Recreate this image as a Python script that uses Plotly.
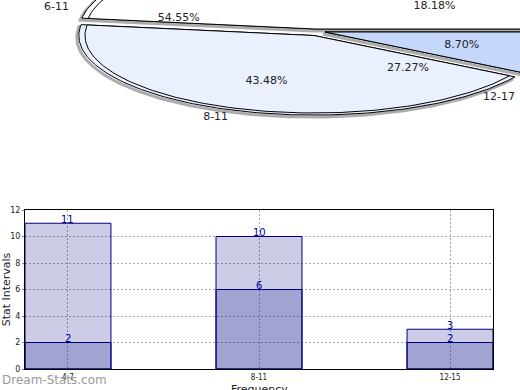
import math
import plotly.graph_objects as go

# ---------------- data ----------------
categories = ["4-7", "8-11", "12-15"]
total_counts = [11, 10, 3]
sub_counts = [2, 6, 2]

pie1_labels = ["4-7", "8-11", "12-15"]
pie1_values = [11, 10, 2]
pie2_labels = ["0-5", "6-11", "12-17"]
pie2_values = [2, 6, 3]

# ---------------- pie geometry (pixel-like units of the pie subplot) ----------------
CX, CY = 315.0, 32.0
A, B = 229.0, 77.5
OUTER = 1.027
LABEL_R = 0.62
OUT_R = 1.12
pie1_colors = ["#FFFFFF", "#EAF0FD", "#C5D8FC"]
pie1_pull = [(0.0, -3.0), (-1.0, 3.5), (10.0, 0.0)]


def ell(t, scale=1.0, dx=0.0, dy=0.0):
    return CX + dx + A * scale * math.cos(t), CY + dy - B * scale * math.sin(t)


def slice_poly(t0, t1, scale, dx, dy):
    xs, ys = [CX + dx], [CY + dy]
    n = max(8, int(abs(t1 - t0) / 0.02))
    for i in range(n + 1):
        t = t0 + (t1 - t0) * i / n
        x, y = ell(t, scale, dx, dy)
        xs.append(x)
        ys.append(y)
    xs.append(CX + dx)
    ys.append(CY + dy)
    return xs, ys


def angles(values):
    tot = float(sum(values))
    out, start = [], 0.0
    for v in values:
        span = 2 * math.pi * v / tot
        out.append((start, start + span))
        start += span
    return out


fig = go.Figure()

# --- pie 1 slices ---
p1 = angles(pie1_values)
# shadows
for (t0, t1), (dx, dy) in zip(p1, pie1_pull):
    xs, ys = slice_poly(t0, t1, OUTER, dx - 2, dy + 2)
    fig.add_trace(go.Scatter(x=xs, y=ys, mode="lines", xaxis="x2", yaxis="y2",
                             line=dict(color="rgba(90,90,90,0.5)", width=3),
                             hoverinfo="skip", showlegend=False))
for (t0, t1), (dx, dy), col in zip(p1, pie1_pull, pie1_colors):
    for sc in (OUTER, 1.0):
        xs, ys = slice_poly(t0, t1, sc, dx, dy)
        fig.add_trace(go.Scatter(x=xs, y=ys, mode="lines", fill="toself", fillcolor=col,
                                 xaxis="x2", yaxis="y2",
                                 line=dict(color="#000000", width=1),
                                 hoverinfo="skip", showlegend=False))

# --- pie labels ---
tot1 = float(sum(pie1_values))
tot2 = float(sum(pie2_values))
tx, ty, tt, tp = [], [], [], []


def add_labels(slices, pulls, values, labels, tot):
    for (t0, t1), (dx, dy), v, lab in zip(slices, pulls, values, labels):
        m = (t0 + t1) / 2
        x, y = ell(m, LABEL_R, dx, dy)
        tx.append(x); ty.append(y); tt.append("%.2f%%" % (100 * v / tot)); tp.append("middle center")
        x, y = ell(m, OUT_R, dx, dy)
        tx.append(x); ty.append(y); tt.append(lab)
        tp.append("middle right" if math.cos(m) > 0 else "middle left")


add_labels(p1, pie1_pull, pie1_values, pie1_labels, tot1)
add_labels(angles(pie2_values), [(0.0, 0.0)] * 3, pie2_values, pie2_labels, tot2)
fig.add_trace(go.Scatter(x=tx, y=ty, text=tt, mode="text", textposition=tp,
                         xaxis="x2", yaxis="y2",
                         textfont=dict(family="DejaVu Sans", size=11, color="#222222"),
                         hoverinfo="skip", showlegend=False))

# --- bars ---
bar_fill = "rgba(0,0,128,0.2)"
for vals in (total_counts, sub_counts):
    fig.add_trace(go.Bar(x=categories, y=vals, width=0.45,
                         marker=dict(color=bar_fill, line=dict(color="#000080", width=1)),
                         showlegend=False, hoverinfo="x+y"))

# value labels sitting on the bar tops
bar_annotations = []
for vals in (total_counts, sub_counts):
    for c, v in zip(categories, vals):
        bar_annotations.append(dict(x=c, y=v, xref="x", yref="y", text=str(v),
                                    showarrow=False, yanchor="middle", yshift=4,
                                    font=dict(family="DejaVu Sans", size=10, color="#000099")))

W, H = 520, 390
fig.update_layout(
    width=W, height=H,
    margin=dict(l=0, r=0, t=0, b=0),
    paper_bgcolor="white", plot_bgcolor="rgba(0,0,0,0)",
    barmode="overlay",
    font=dict(family="DejaVu Sans", color="#222222"),
    xaxis=dict(domain=[25 / W, 493 / W], type="category", range=[-0.225, 2.225],
               showline=True, linecolor="black", linewidth=1, mirror=True,
               showgrid=True, gridcolor="#a8a8a8", griddash="2px,2px", gridwidth=1,
               ticks="", tickfont=dict(family="DejaVu Sans Condensed, Liberation Sans Narrow, sans-serif",
                                       size=8, color="#222222"),
               automargin=False, zeroline=False, anchor="y"),
    yaxis=dict(domain=[(H - 369) / H, (H - 210) / H], range=[0, 12], dtick=2,
               showline=True, linecolor="black", linewidth=1, mirror=True,
               showgrid=True, gridcolor="#a8a8a8", griddash="2px,2px", gridwidth=1,
               ticks="outside", ticklen=2, tickcolor="#888888",
               tickfont=dict(size=8, color="#222222"),
               title=dict(text="Stat Intervals", font=dict(size=11), standoff=4),
               automargin=False, zeroline=False, anchor="x"),
    xaxis2=dict(domain=[0, 1], range=[0, W], visible=False, anchor="y2"),
    yaxis2=dict(domain=[1 - 130 / H, 1], range=[130, 0], visible=False, anchor="x2"),
    annotations=bar_annotations + [
        dict(text="Frequency", x=259 / W, y=(H - 389) / H, xref="paper", yref="paper",
             xanchor="center", yanchor="middle", showarrow=False,
             font=dict(family="DejaVu Sans", size=11, color="#222222")),
        dict(text="Dream-Stats.com", x=0, y=(H - 380) / H, xref="paper", yref="paper",
             xanchor="left", yanchor="middle", showarrow=False,
             font=dict(family="DejaVu Sans", size=12, color="#9a9a9a"))],
)

fig.write_html("out.html", config={"displayModeBar": False},
               post_script="document.body.style.margin='0';document.body.style.padding='0';")
